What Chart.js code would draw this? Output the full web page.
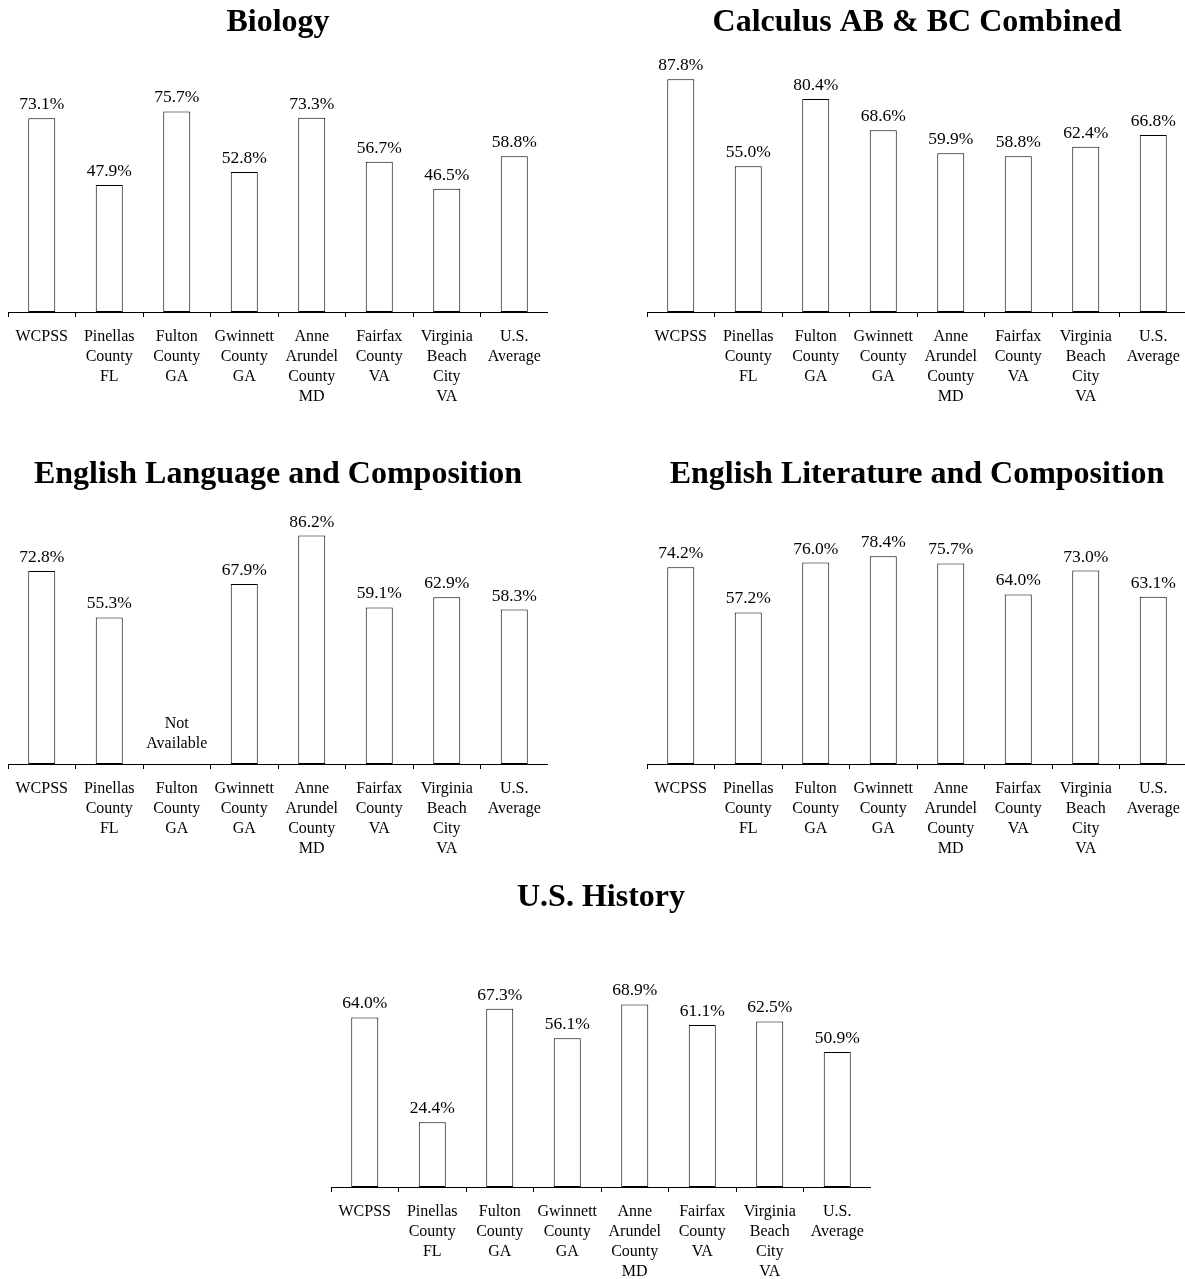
<!DOCTYPE html>
<html>
<head>
<meta charset="utf-8">
<script src="https://cdn.jsdelivr.net/npm/chart.js@4/dist/chart.umd.min.js"></script>
<style>
  html, body { margin: 0; padding: 0; background: #fff; overflow: hidden; }
  body { width: 1185px; height: 1279px; position: relative; }
  .box { position: absolute; width: 540px; height: 420px; }
</style>
</head>
<body>
<div class="box" style="left:8px; top:0px;"><canvas id="c1"></canvas></div>
<div class="box" style="left:647px; top:0px;"><canvas id="c2"></canvas></div>
<div class="box" style="left:8px; top:452px;"><canvas id="c3"></canvas></div>
<div class="box" style="left:647px; top:452px;"><canvas id="c4"></canvas></div>
<div class="box" style="left:331px; top:875px;"><canvas id="c5"></canvas></div>
<script>
const districts = [
    ['WCPSS'],
    ['Pinellas', 'County', 'FL'],
    ['Fulton', 'County', 'GA'],
    ['Gwinnett', 'County', 'GA'],
    ['Anne', 'Arundel', 'County', 'MD'],
    ['Fairfax', 'County', 'VA'],
    ['Virginia', 'Beach', 'City', 'VA'],
    ['U.S.', 'Average']
];

const titles = [
    'Biology',
    'Calculus AB & BC Combined',
    'English Language and Composition',
    'English Literature and Composition',
    'U.S. History'
];

const biology = [73.1, 47.9, 75.7, 52.8, 73.3, 56.7, 46.5, 58.8];
const calculus = [87.8, 55.0, 80.4, 68.6, 59.9, 58.8, 62.4, 66.8];
const englishLang = [72.8, 55.3, null, 67.9, 86.2, 59.1, 62.9, 58.3];
const englishLit = [74.2, 57.2, 76.0, 78.4, 75.7, 64.0, 73.0, 63.1];
const usHistory = [64.0, 24.4, 67.3, 56.1, 68.9, 61.1, 62.5, 50.9];

const FONT = "'Liberation Serif', 'Times New Roman', serif";

// value labels above bars, "Not Available" where there is no data
const barLabels = {
    id: 'barLabels',
    afterDatasetsDraw(chart) {
        const ctx = chart.ctx;
        const meta = chart.getDatasetMeta(0);
        const data = chart.data.datasets[0].data;
        const base = chart.chartArea.bottom;
        ctx.save();
        ctx.fillStyle = '#000';
        ctx.textAlign = 'center';
        meta.data.forEach((bar, i) => {
            const v = data[i];
            if (v === null || v === undefined) {
                ctx.font = '16px ' + FONT;
                ctx.textBaseline = 'middle';
                ctx.fillText('Not', bar.x, base - 40);
                ctx.fillText('Available', bar.x, base - 20);
            } else {
                ctx.font = '17.5px ' + FONT;
                ctx.textBaseline = 'alphabetic';
                ctx.fillText(v.toFixed(1) + '%', bar.x, bar.y - 9);
            }
        });
        ctx.restore();
    }
};

function makeChart(id, title, values) {
    const ctx = document.getElementById(id).getContext('2d');
    return new Chart(ctx, {
        type: 'bar',
        data: {
            labels: districts,
            datasets: [{
                data: values,
                backgroundColor: '#fff',
                borderColor: '#000',
                borderWidth: 1,
                borderSkipped: false,
                categoryPercentage: 1,
                barPercentage: 0.4
            }]
        },
        options: {
            responsive: true,
            maintainAspectRatio: false,
            animation: false,
            layout: { padding: 0 },
            plugins: {
                legend: { display: false },
                tooltip: { enabled: false },
                title: {
                    display: true,
                    text: title,
                    color: '#000',
                    font: { family: FONT, size: 32, weight: 'bold', lineHeight: 1.2 },
                    padding: { top: 4, bottom: 4.6 }
                }
            },
            scales: {
                x: {
                    grid: {
                        display: true,
                        drawOnChartArea: false,
                        drawTicks: true,
                        tickLength: 5,
                        color: '#000',
                        offset: true
                    },
                    border: { display: true, color: '#000', width: 1 },
                    ticks: {
                        color: '#000',
                        autoSkip: false,
                        maxRotation: 0,
                        padding: 10,
                        font: { family: FONT, size: 16, lineHeight: 20 / 16 }
                    },
                    afterFit(scale) {
                        // fixed axis band, no extra side padding
                        scale.height = 108;
                        scale.paddingLeft = 0;
                        scale.paddingRight = 0;
                    }
                },
                y: {
                    display: false,
                    min: 0,
                    max: 100
                }
            }
        },
        plugins: [barLabels]
    });
}

makeChart('c1', titles[0], biology);
makeChart('c2', titles[1], calculus);
makeChart('c3', titles[2], englishLang);
makeChart('c4', titles[3], englishLit);
makeChart('c5', titles[4], usHistory);
</script>
</body>
</html>
